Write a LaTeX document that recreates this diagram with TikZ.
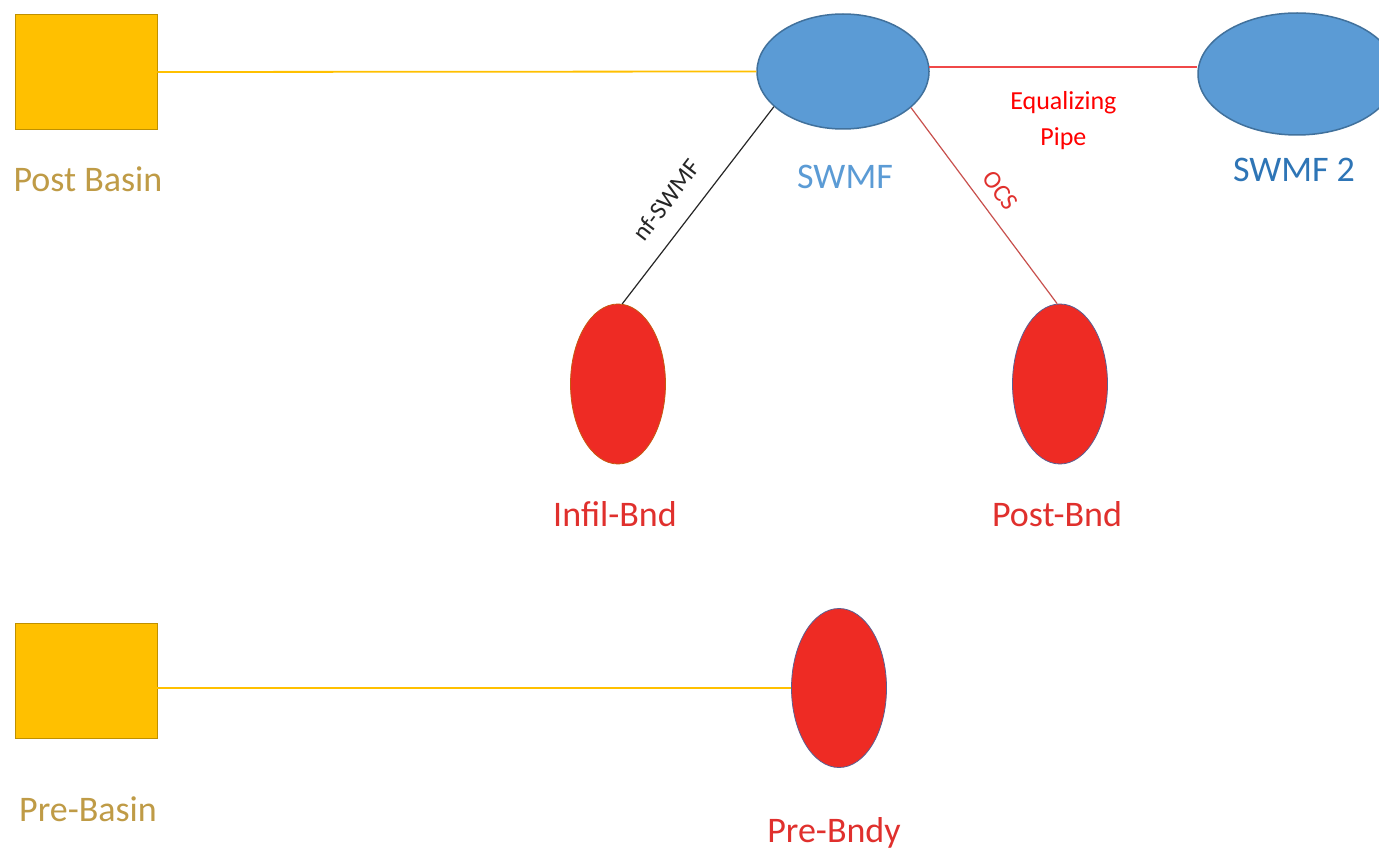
\documentclass[tikz,border=0pt]{standalone}
\usepackage{fontspec}
\setmainfont{Carlito}
\usetikzlibrary{shapes.geometric}
\definecolor{gold}{HTML}{FFC000}
\definecolor{golddk}{HTML}{BF9000}
\definecolor{goldtxt}{HTML}{BF9B46}
\definecolor{pondblue}{HTML}{5B9BD5}
\definecolor{pondline}{HTML}{41719C}
\definecolor{pondtxt}{HTML}{2E75B6}
\definecolor{bndred}{HTML}{EE2B24}
\definecolor{bndtxt}{HTML}{E0302D}
\definecolor{bndline}{HTML}{5B5F91}
\definecolor{infline}{HTML}{C55A11}
\definecolor{pipered}{HTML}{F04848}
\definecolor{ocsred}{HTML}{C8504D}
\begin{document}
\begin{tikzpicture}[x=1pt,y=-1pt,
    basin/.style={draw=golddk,line width=0.8pt,fill=gold,minimum width=142pt,minimum height=115pt,inner sep=0pt},
    pond/.style={ellipse,draw=pondline,line width=1.5pt,fill=pondblue,inner sep=0pt},
    bnd/.style={ellipse,draw=bndline,line width=0.8pt,fill=bndred,inner sep=0pt,minimum width=95pt,minimum height=160pt},
    feed/.style={draw=gold,line width=1.8pt},
    big/.style={font=\fontsize{36}{43}\selectfont,anchor=base},
    small/.style={font=\fontsize{25}{30}\selectfont,inner sep=0pt}]
    \path [use as bounding box,fill=white] (0,0) rectangle (1379,850);
    \clip (0,0) rectangle (1379,850);
    % shapes
    \path (86,72) node (postbasin) [basin] {};
    \path (86,681) node (prebasin) [basin] {};
    \path (843,71.5) node (swmf) [pond,minimum width=172pt,minimum height=115pt] {};
    \path (1297,74) node (swmftwo) [pond,minimum width=198pt,minimum height=122pt] {};
    \path (618,384) node (infil) [bnd,draw=infline] {};
    \path (1060,384) node (postbnd) [bnd] {};
    \path (839,688) node (prebndy) [bnd,minimum height=159pt] {};
    % names
    \path (88,192) node (postbasinlbl) [big,text=goldtxt] {Post Basin};
    \path (88,821) node (prebasinlbl) [big,text=goldtxt] {Pre-Basin};
    \path (845,189) node (swmflbl) [big,text=pondblue] {SWMF};
    \path (1294,182) node (swmftwolbl) [big,text=pondtxt] {SWMF 2};
    \path (615,526) node (infillbl) [big,text=bndtxt] {Infil-Bnd};
    \path (1057,526) node (postbndlbl) [big,text=bndtxt] {Post-Bnd};
    \path (834,842) node (prebndylbl) [big,text=bndtxt] {Pre-Bndy};
    % links
    \draw [feed] (postbasin.east) -- (swmf.west);
    \draw [feed] (prebasin.east |- prebndy.west) -- (prebndy.west);
    \draw [pipered,line width=1.2pt] (swmf.3) -- (swmf.3 -| swmftwo.west)
        node (eqlbl) [midway,below=24pt,anchor=north,inner sep=0pt,align=center,text=red,
            font=\fontsize{26}{36}\selectfont] {Equalizing\\Pipe};
    \draw [black!85,line width=1.2pt] (swmf.207) -- (infil.87)
        node (nflbl) [small,pos=0.56,sloped,above=19pt] {nf-SWMF};
    \draw [ocsred,line width=1.2pt] (swmf.332) -- (postbnd.92)
        node (ocslbl) [small,pos=0.49,sloped,above=13pt,text=bndtxt] {OCS};
\end{tikzpicture}
\end{document}
